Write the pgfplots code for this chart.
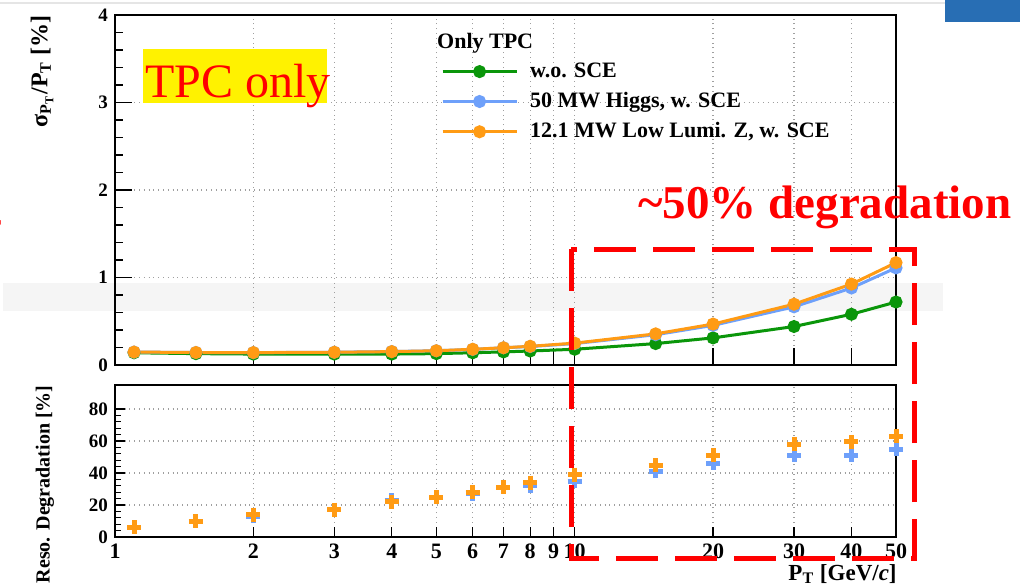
\documentclass[border=0pt]{standalone}
\usepackage{pgfplots}
\pgfplotsset{compat=1.18}
\usepackage{fontspec}
\setmainfont{Liberation Serif}
\definecolor{rgreen}{RGB}{10,150,10}
\definecolor{rblue}{RGB}{110,160,250}
\definecolor{rorange}{RGB}{255,155,20}
\definecolor{slideblue}{RGB}{40,110,180}
\begin{document}
\begin{tikzpicture}
\path[use as bounding box] (0,0) rectangle (510pt,-292.5pt);
\begin{scope}[x=0.5pt,y=-0.5pt]
\fill[white] (0,0) rectangle (1020,585);
\fill[gray!8] (3,283) rectangle (943,311);
\fill[slideblue] (945,0) rectangle (1020,22);
\draw[gray!20, line width=1pt] (0,3) -- (945,3);
\node[red, anchor=base west, inner sep=0pt, font=\fontsize{20}{24}\selectfont\bfseries] at (-13,248) {f};
\end{scope}

\begin{axis}[at={(57.5pt,-182.5pt)}, anchor=south west, height=175pt,
  scale only axis, width=390.5pt, xmode=log, xmin=1, xmax=50,
  xtick={1,2,3,4,5,6,7,8,9,10,20,30,40,50},
  minor xtick={},
  grid=major, major grid style={gray!75, dotted, line width=0.6pt},
  tick align=inside, axis line style={line width=1pt},
  major tick length=8.5pt, minor tick length=4pt,
  tick style={black, line width=0.6pt},
  ytick pos=left, xtick pos=bottom,
  yticklabel style={font=\fontsize{9.5}{11}\selectfont\bfseries},
  ymin=0, ymax=4, ytick={0,1,2,3,4}, minor y tick num=4,
  xticklabels={},
  legend style={draw=none, fill=none, at={(0.417,0.876)}, anchor=north west,
    font=\fontsize{11}{13}\selectfont\bfseries, row sep=2pt, inner sep=0pt,
    /tikz/every odd column/.append style={column sep=4pt}},
  legend cell align=left,
  legend image code/.code={\draw[mark repeat=2,mark phase=2,#1] plot coordinates {(0pt,0pt) (18.5pt,0pt) (37pt,0pt)};},
  /pgf/number format/assume math mode=true,
]
\addplot[rgreen, line width=1.5pt, mark=*, mark size=2.5pt] coordinates {
(1.1,0.14) (1.5,0.13) (2,0.125) (3,0.125) (4,0.125) (5,0.13) (6,0.14) (7,0.15) (8,0.16) (10,0.18) (15,0.245) (20,0.31) (30,0.44) (40,0.58) (50,0.72)};
\addlegendentry{w.o. SCE}
\addplot[rblue, line width=1.5pt, mark=*, mark size=2.5pt] coordinates {
(1.1,0.148) (1.5,0.143) (2,0.141) (3,0.146) (4,0.154) (5,0.163) (6,0.178) (7,0.197) (8,0.211) (10,0.245) (15,0.346) (20,0.453) (30,0.665) (40,0.88) (50,1.11)};
\addlegendentry{50 MW Higgs, w. SCE}
\addplot[rorange, line width=1.5pt, mark=*, mark size=2.5pt] coordinates {
(1.1,0.148) (1.5,0.143) (2,0.142) (3,0.146) (4,0.153) (5,0.163) (6,0.18) (7,0.197) (8,0.214) (10,0.25) (15,0.356) (20,0.468) (30,0.695) (40,0.925) (50,1.17)};
\addlegendentry{12.1 MW Low Lumi. Z, w. SCE}
\node[anchor=west, inner sep=0pt, font=\fontsize{11}{13}\selectfont\bfseries] at (rel axis cs:0.412,0.92) {Only TPC};
\end{axis}

\begin{axis}[at={(57.5pt,-268.5pt)}, anchor=south west, height=76pt,
  scale only axis, width=390.5pt, xmode=log, xmin=1, xmax=50,
  xtick={1,2,3,4,5,6,7,8,9,10,20,30,40,50},
  minor xtick={},
  grid=major, major grid style={gray!75, dotted, line width=0.6pt},
  tick align=inside, axis line style={line width=1pt},
  major tick length=5pt, minor tick length=3pt,
  tick style={black, line width=0.6pt},
  ytick pos=left, xtick pos=bottom,
  yticklabel style={font=\fontsize{9.5}{11}\selectfont\bfseries},
  xticklabel style={font=\fontsize{11}{13}\selectfont\bfseries},
  ymin=0, ymax=95, ytick={0,20,40,60,80}, minor y tick num=4,
  xticklabels={1,2,3,4,5,6,7,8,9,10,20,30,40,50},
  /pgf/number format/assume math mode=true,
]
\addplot[only marks, rblue, mark=+, mark size=3.5pt, mark options={line width=2.5pt}] coordinates {
(1.1,6) (1.5,10) (2,13) (3,17) (4,23) (5,25) (6,27) (7,31) (8,32) (10,35) (15,41) (20,46) (30,51) (40,51) (50,55)};
\addplot[only marks, rorange, mark=+, mark size=3.5pt, mark options={line width=2.5pt}] coordinates {
(1.1,6) (1.5,10) (2,14) (3,17) (4,22) (5,25) (6,28) (7,31) (8,34) (10,39) (15,45) (20,51) (30,58) (40,59.5) (50,63)};
\end{axis}

\begin{scope}[x=0.5pt,y=-0.5pt]
\node[rotate=90, anchor=east, inner sep=0pt, font=\fontsize{12}{14}\selectfont\bfseries] at (42,15) {σ\textsubscript{P\textsubscript{T}}/P\textsubscript{T} [\%]};
\node[rotate=90, anchor=east, inner sep=0pt, font=\fontsize{10}{12}\selectfont\bfseries] at (45,385) {Reso. Degradation [\%]};
\node[anchor=base east, inner sep=0pt, font=\fontsize{11.5}{13}\selectfont\bfseries] at (897,580) {P\textsubscript{T} [GeV/\textit{c}]};
\fill[yellow] (143,49) rectangle (327,103);
\node[red, anchor=base west, inner sep=0pt, font=\fontsize{24}{28}\selectfont] at (145,97) {TPC only};
\node[red, anchor=base west, inner sep=0pt, font=\fontsize{23.5}{28}\selectfont\bfseries] at (638,218) {\textasciitilde 50\% degradation};
\draw[red, line width=2.5pt, dash pattern=on 21pt off 8.5pt] (571,249) rectangle (914,558);
\end{scope}
\end{tikzpicture}
\end{document}
